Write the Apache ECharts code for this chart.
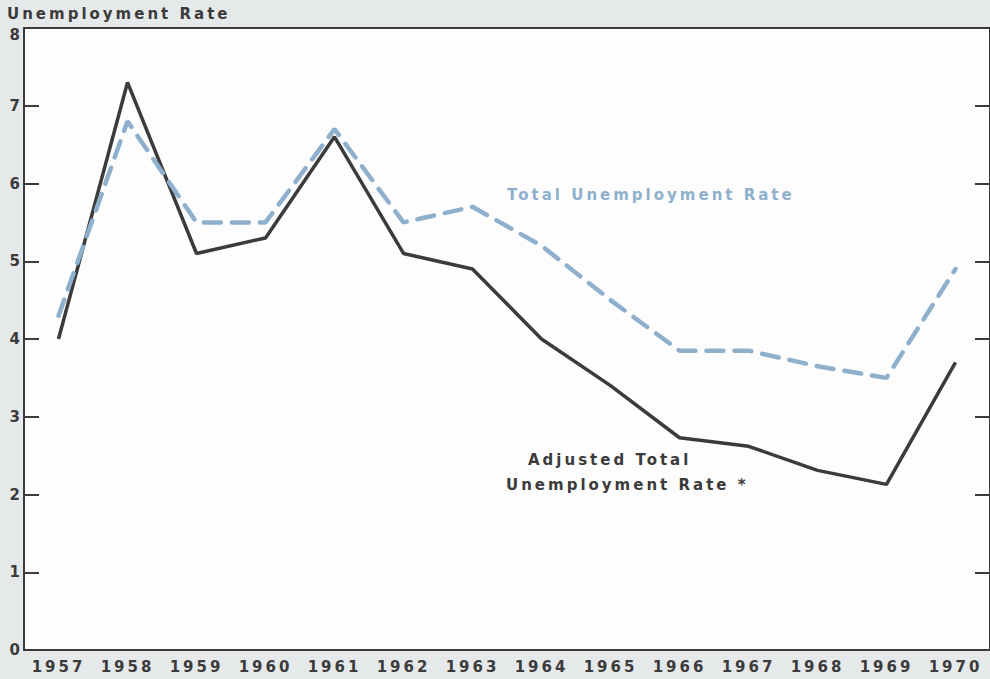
<!DOCTYPE html>
<html lang="en">
<head>
    <meta charset="UTF-8">
    <title>Unemployment Rate</title>
    <script src="https://cdn.jsdelivr.net/npm/echarts@6/dist/echarts.min.js"></script>
    <style>
        html, body {
            margin: 0;
            padding: 0;
            background: #e6e9e9;
        }

        #chart {
            width: 990px;
            height: 679px;
        }

        /* the old print is set with wide letter spacing */
        #chart svg text {
            letter-spacing: 3px;
        }
    </style>
</head>
<body>
<div id="chart"></div>
<script type="text/javascript">
    var years = ['1957', '1958', '1959', '1960', '1961', '1962', '1963',
        '1964', '1965', '1966', '1967', '1968', '1969', '1970'];
    var totalRate = [4.3, 6.8, 5.5, 5.5, 6.7, 5.5, 5.7, 5.2, 4.5, 3.85, 3.85, 3.65, 3.5, 4.9];
    var adjustedRate = [4.0, 7.3, 5.1, 5.3, 6.6, 5.1, 4.9, 4.0, 3.4, 2.73, 2.62, 2.31, 2.13, 3.7];
    var yTicks = [0, 1, 2, 3, 4, 5, 6, 7, 8];

    var ink = '#3b3b3b';
    var blue = '#8fb0cd';
    var font = 'DejaVu Sans';
    var textFont = 'bold 15px "DejaVu Sans"';
    var yMax = yTicks[yTicks.length - 1];

    var chart = echarts.init(document.getElementById('chart'), null, {renderer: 'svg'});

    chart.setOption({
        backgroundColor: '#e6e9e9',
        animation: false,
        grid: {
            left: 24,
            right: -4,
            top: 28,
            bottom: 29,
            show: true,
            backgroundColor: '#fdfdfd',
            borderColor: ink,
            borderWidth: 2
        },
        xAxis: {
            type: 'category',
            data: years,
            boundaryGap: true,
            axisLine: {lineStyle: {color: ink, width: 2}},
            axisTick: {
                alignWithLabel: true,
                inside: true,
                length: 12,
                lineStyle: {color: ink, width: 2}
            },
            axisLabel: {
                interval: 0,
                margin: 9,
                color: ink,
                fontFamily: font,
                fontWeight: 'bold',
                fontSize: 15
            },
            splitLine: {show: false}
        },
        yAxis: [{
            type: 'value',
            min: yTicks[0],
            max: yMax,
            interval: 1,
            axisLine: {show: true, lineStyle: {color: ink, width: 2}},
            axisTick: {show: true, inside: true, length: 15, lineStyle: {color: ink, width: 2}},
            axisLabel: {
                margin: 1,
                color: ink,
                fontFamily: font,
                fontWeight: 'bold',
                fontSize: 15,
                // top label sits a little below the frame, under the title
                formatter: function (v) {
                    return v === yMax ? '{lo|' + v + '}' : String(v);
                },
                rich: {
                    lo: {padding: [14, 0, 0, 0]}
                }
            },
            splitLine: {show: false}
        }, {
            type: 'value',
            position: 'right',
            min: yTicks[0],
            max: yMax,
            interval: 1,
            axisLine: {show: false},
            axisTick: {show: true, inside: true, length: 15, lineStyle: {color: ink, width: 2}},
            axisLabel: {show: false},
            splitLine: {show: false}
        }],
        graphic: [{
            type: 'text',
            left: 7,
            top: 6,
            style: {text: 'Unemployment Rate', fill: ink, font: textFont}
        }, {
            type: 'text',
            left: 507,
            top: 187,
            style: {text: 'Total Unemployment Rate', fill: blue, font: textFont}
        }, {
            type: 'text',
            left: 528,
            top: 452,
            style: {text: 'Adjusted Total', fill: ink, font: textFont}
        }, {
            type: 'text',
            left: 506,
            top: 477,
            style: {text: 'Unemployment Rate *', fill: ink, font: textFont}
        }],
        series: [{
            name: 'Adjusted Total Unemployment Rate',
            type: 'line',
            data: adjustedRate,
            symbol: 'none',
            lineStyle: {color: ink, width: 3.5}
        }, {
            name: 'Total Unemployment Rate',
            type: 'line',
            data: totalRate,
            symbol: 'none',
            lineStyle: {color: blue, width: 4.5, type: [17, 11], cap: 'round'}
        }]
    });
</script>
</body>
</html>
